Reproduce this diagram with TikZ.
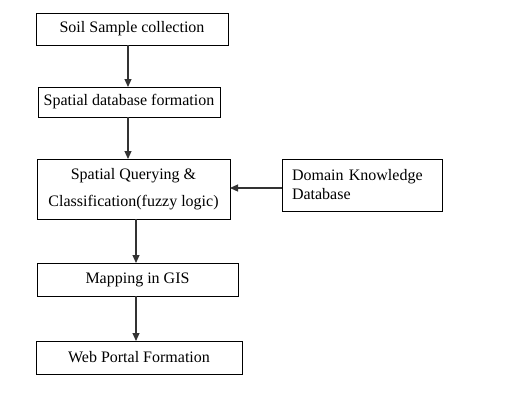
\documentclass[tikz,border=0pt]{standalone}
\usepackage{fontspec}
\setmainfont{Liberation Serif}
\usetikzlibrary{arrows.meta}
\tikzset{
    stage/.style={draw=black, line width=0.9pt, outer sep=0pt, inner sep=2pt,
        font=\fontsize{16}{27}\selectfont, align=center},
    flow/.style={draw=black!80, line width=1.2pt, -{Triangle[length=8pt,width=7pt]}}
}
\begin{document}
\begin{tikzpicture}[x=1pt, y=-1pt]
        \useasboundingbox (0, 0) rectangle (520, 408);
        \node[stage, minimum width=192pt, minimum height=32pt] (soil) at (132, 29) {Soil Sample collection};
        \node[stage, minimum width=182pt, minimum height=30pt] (base) at (129, 102) {Spatial database formation};
        \node[stage, minimum width=193pt, minimum height=60pt] (query) at (133.5, 189) {Spatial Querying \&\\Classification(fuzzy logic)};
        \node[stage, minimum width=160pt, minimum height=52pt, text width=140pt, align=left,
            font=\fontsize{16}{19}\selectfont] (domain) at (362, 185) {Domain Knowledge\\Database};
        \node[stage, minimum width=201pt, minimum height=33pt] (gis) at (137.5, 279.5) {Mapping in GIS};
        \node[stage, minimum width=206pt, minimum height=33pt] (web) at (139, 357.5) {Web Portal Formation};
        \foreach \a/\b/\s in {soil/base/-1, base/query/-5.5, query/gis/-1.5, gis/web/-3} {
            \draw[flow] ([xshift=\s pt]\b.north |- \a.south) -- ([xshift=\s pt]\b.north);
        }
        \draw[flow] (domain.west |- 0, 188) -- (query.east |- 0, 188);
    \end{tikzpicture}
\end{document}
